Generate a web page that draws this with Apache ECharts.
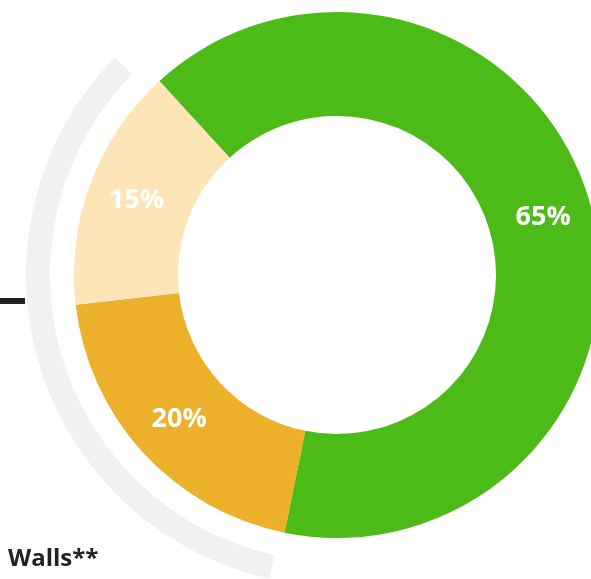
<!DOCTYPE html>
<html>
<head>
<meta charset="utf-8">
<script src="https://cdn.jsdelivr.net/npm/echarts@6/dist/echarts.min.js"></script>
<style>
  html, body { margin: 0; padding: 0; background: #fff; }
  #chart { width: 591px; height: 579px; }
</style>
</head>
<body>
<div id="chart"></div>
<script>
// slice data (clockwise from the upper-left)
const sliceNames = ['Green', 'Orange', 'Light'];
const sliceValues = [65, 20, 15];
const sliceColors = ['#4dbb17', '#ecb02a', '#fde5b7'];
const titleText = 'Walls**';

var dom = document.getElementById('chart');
var myChart = echarts.init(dom, null, { renderer: 'canvas' });

var pieData = sliceNames.map(function (n, i) {
    return { name: n, value: sliceValues[i], itemStyle: { color: sliceColors[i] } };
});

// grey back arc spans the non-green part of the ring
var restValue = sliceValues[1] + sliceValues[2];
var arcData = [
    { name: 'skip', value: sliceValues[0], itemStyle: { color: 'transparent' } },
    { name: 'arc', value: restValue, itemStyle: { color: '#f1f1f1' } }
];

var option = {
    animation: false,
    title: {
        text: titleText,
        left: 3,
        top: 542,
        textStyle: { fontFamily: 'Open Sans', fontWeight: 'bold', fontSize: 24, color: '#222' }
    },
    graphic: [
        { type: 'rect', shape: { x: 0, y: 298, width: 25, height: 6 }, style: { fill: '#222' } }
    ],
    series: [
        {
            type: 'pie',
            center: [337, 275],
            radius: [287, 311],
            startAngle: 133.5,
            padAngle: 4.2,
            silent: true,
            label: { show: false },
            labelLine: { show: false },
            data: arcData
        },
        {
            type: 'pie',
            center: [337, 275],
            radius: [159, 263],
            startAngle: 132.5,
            avoidLabelOverlap: false,
            label: {
                show: true,
                position: 'inside',
                formatter: '{c}%',
                color: '#fff',
                fontFamily: 'Open Sans',
                fontWeight: 'bold',
                fontSize: 27
            },
            labelLine: { show: false },
            data: pieData
        }
    ]
};

myChart.setOption(option);
window.addEventListener('resize', myChart.resize);
</script>
</body>
</html>
